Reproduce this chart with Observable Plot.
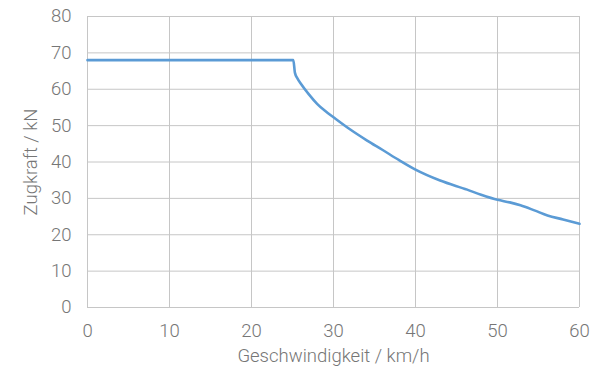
<!DOCTYPE html>
<html><head><meta charset="utf-8">
<script src="https://cdn.jsdelivr.net/npm/d3@7"></script>
<script src="https://cdn.jsdelivr.net/npm/@observablehq/plot@0.6"></script>
<style>
body{margin:0;background:#fff;}
svg text{font-family:Roboto,"Liberation Sans",sans-serif;font-weight:300;}
</style>
</head><body><div id="chart"></div>
<script>
const speed = [0, 25.1, 25.3, 25.6, 26.0, 27.0, 28.0, 29.0, 30, 32, 34.1, 36, 38, 40, 43, 46.3, 48, 50, 51.5, 52.8, 54.5, 56.1, 58, 60];
const force = [68, 68, 64.5, 63.0, 61.6, 58.6, 56.0, 54.0, 52.3, 49.0, 45.9, 43.3, 40.5, 37.9, 34.9, 32.4, 31.0, 29.6, 28.9, 28.1, 26.7, 25.3, 24.2, 23.0];
const xTicks = [0, 10, 20, 30, 40, 50, 60];
const yTicks = [0, 10, 20, 30, 40, 50, 60, 70, 80];
const data = speed.map((v, i) => ({v, f: force[i]}));
const grey = "#c6c6c6";
const txt = "#767676";
const chart = Plot.plot({
  width: 596, height: 370,
  marginLeft: 87, marginRight: 17, marginTop: 16, marginBottom: 63,
  style: {fontSize: "18.5px", color: txt, background: "#fff"},
  x: {domain: [0, 60]},
  y: {domain: [0, 80]},
  marks: [
    Plot.ruleX(xTicks, {stroke: grey, strokeWidth: 1}),
    Plot.ruleY(yTicks, {stroke: grey, strokeWidth: 1}),
    Plot.axisX({ticks: xTicks, tickSize: 0, tickPadding: 16, label: "Geschwindigkeit / km/h", labelAnchor: "center", labelArrow: "none", labelOffset: 54, fill: txt}),
    Plot.axisY({ticks: yTicks, tickSize: 0, tickPadding: 16, label: "Zugkraft / kN", labelAnchor: "center", labelArrow: "none", labelOffset: 64, fill: txt}),
    Plot.line(data, {x: "v", y: "f", stroke: "#5b9bd5", strokeWidth: 2.6, curve: "monotone-x"})
  ]
});
document.getElementById("chart").appendChild(chart);
</script>
</body></html>
